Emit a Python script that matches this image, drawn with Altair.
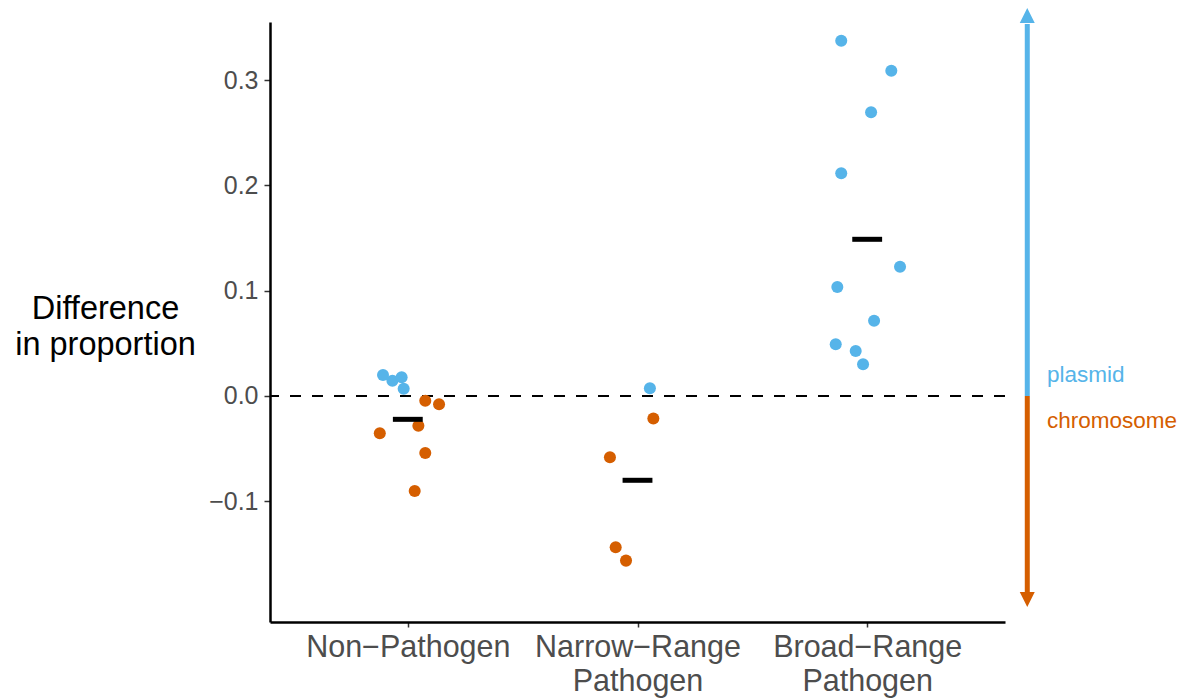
import altair as alt
import pandas as pd

# ---- data ----
categories = ["Non−Pathogen", "Narrow−Range Pathogen", "Broad−Range Pathogen"]
cat_labels = [["Non−Pathogen"], ["Narrow−Range", "Pathogen"], ["Broad−Range", "Pathogen"]]

# points: category index, horizontal jitter, value, replicon
pt_cat = [1, 1, 1, 1, 1, 1, 1, 1, 1, 1,
          2, 2, 2, 2, 2,
          3, 3, 3, 3, 3, 3, 3, 3, 3, 3]
pt_jitter = [-0.108, -0.067, -0.027, -0.018, 0.076, 0.136, 0.046, -0.122, 0.076, 0.030,
             0.054, 0.069, -0.120, -0.095, -0.050,
             -0.113, 0.105, 0.017, -0.113, 0.143, -0.130, 0.030, -0.137, -0.050, -0.018]
pt_value = [0.0199, 0.0145, 0.0178, 0.0069, -0.0045, -0.0079, -0.0282, -0.0354, -0.0541, -0.0902,
            0.0073, -0.0215, -0.0582, -0.1437, -0.1564,
            0.3374, 0.3089, 0.2694, 0.2115, 0.1228, 0.1035, 0.0715, 0.0491, 0.0427, 0.0301]
pt_type = ["plasmid"] * 4 + ["chromosome"] * 6 + \
          ["plasmid"] + ["chromosome"] * 4 + \
          ["plasmid"] * 10

mean_cat = [1, 2, 3]
mean_value = [-0.0222, -0.0801, 0.1488]
mean_halfwidth = 0.065

types = ["plasmid", "chromosome"]
type_colors = ["#56B4E9", "#D55E00"]

# arrow annotation (data units)
arrow_x = 3.697
arrow_top = 0.3533
arrow_bottom = -0.1861
arrow_head_up = 0.3613
arrow_head_down = -0.1933
label_x = 3.783
label_y = [0.020, -0.0237]

x_domain = [0.4, 3.6]
y_domain = [-0.2147, 0.3552]
y_ticks = [-0.1, 0.0, 0.1, 0.2, 0.3]

FONT = "Liberation Sans"

# ---- tables ----
pts = pd.DataFrame({"cat": pt_cat, "jit": pt_jitter, "value": pt_value, "type": pt_type})
pts["xpos"] = pts["cat"] + pts["jit"]

means = pd.DataFrame({"cat": mean_cat, "value": mean_value})
means["x1"] = means["cat"] - mean_halfwidth
means["x2"] = means["cat"] + mean_halfwidth

arrows = pd.DataFrame({"x": [arrow_x, arrow_x], "y1": [0.0, 0.0],
                       "y2": [arrow_top, arrow_bottom], "type": types})
heads = pd.DataFrame({"x": [arrow_x, arrow_x], "y": [arrow_head_up, arrow_head_down], "type": types})
labels = pd.DataFrame({"x": [label_x, label_x], "y": label_y, "type": types})

# label expression built from the label list
def lab(v):
    if len(v) == 1:
        return "'" + v[0] + "'"
    return "[" + ",".join("'" + s + "'" for s in v) + "]"

label_expr = ("datum.value == 1 ? " + lab(cat_labels[0]) +
              " : datum.value == 2 ? " + lab(cat_labels[1]) +
              " : datum.value == 3 ? " + lab(cat_labels[2]) + " : ''")

xscale = alt.Scale(domain=x_domain, nice=False, zero=False)
yscale = alt.Scale(domain=y_domain, nice=False, zero=False)
color = alt.Color("type:N", scale=alt.Scale(domain=types, range=type_colors), legend=None)

x_axis = alt.Axis(values=[1, 2, 3], labelExpr=label_expr, title=None, grid=False,
                  labelFontSize=30.5, labelColor="#4D4D4D", labelLineHeight=34,
                  labelPadding=5, tickSize=5, tickColor="#333333", tickWidth=1.5,
                  domainColor="black", domainWidth=2.5, labelFont=FONT, labelFlush=False,
                  labelOverlap=False, labelLimit=0)
y_axis = alt.Axis(values=y_ticks, format=".1f", title=["Difference", "in proportion"],
                  grid=False, labelFontSize=25, labelColor="#4D4D4D", labelPadding=6,
                  tickSize=6, tickColor="#333333", tickWidth=1.5,
                  domainColor="black", domainWidth=2.5, labelFont=FONT,
                  titleAngle=0, titleFontSize=32.5, titleFontWeight="normal", titleColor="black",
                  titleFont=FONT, titleAlign="center", titleBaseline="middle",
                  titleX=-165, titleY=286, titleLineHeight=36, labelFlush=False,
                  titleLimit=0)

base_x = alt.X("xpos:Q", scale=xscale, axis=x_axis)

zero_line = alt.Chart(pd.DataFrame({"y": [0.0]})).mark_rule(
    color="black", strokeDash=[11, 11], strokeWidth=2
).encode(y=alt.Y("y:Q", scale=yscale, axis=y_axis))

points = alt.Chart(pts).mark_circle(size=145, opacity=1).encode(
    x=base_x,
    y=alt.Y("value:Q", scale=yscale),
    color=color,
)

mean_bars = alt.Chart(means).mark_rule(color="black", strokeWidth=5).encode(
    x=alt.X("x1:Q", scale=xscale),
    x2="x2:Q",
    y=alt.Y("value:Q", scale=yscale),
)

arrow_lines = alt.Chart(arrows).mark_rule(strokeWidth=5).encode(
    x=alt.X("x:Q", scale=xscale),
    y=alt.Y("y1:Q", scale=yscale),
    y2="y2:Q",
    color=color,
)

head_up = alt.Chart(heads[heads["type"] == "plasmid"]).mark_point(
    shape="M-1,1L0,-1L1,1Z", filled=True, size=225, opacity=1
).encode(x=alt.X("x:Q", scale=xscale), y=alt.Y("y:Q", scale=yscale), color=color)

head_down = alt.Chart(heads[heads["type"] == "chromosome"]).mark_point(
    shape="M-1,-1L0,1L1,-1Z", filled=True, size=225, opacity=1
).encode(x=alt.X("x:Q", scale=xscale), y=alt.Y("y:Q", scale=yscale), color=color)

texts = alt.Chart(labels).mark_text(align="left", baseline="middle", fontSize=22.5, font=FONT).encode(
    x=alt.X("x:Q", scale=xscale),
    y=alt.Y("y:Q", scale=yscale),
    text="type:N",
    color=color,
)

chart = alt.layer(zero_line, points, mean_bars, arrow_lines, head_up, head_down, texts).properties(
    width=735, height=600,
    autosize=alt.AutoSizeParams(type="none"),
    padding={"left": 270, "top": 22, "right": 184, "bottom": 77},
).configure(background="white").configure_view(strokeWidth=0, stroke="transparent")

chart.save("out.html", embed_options={"renderer": "svg", "actions": False})
